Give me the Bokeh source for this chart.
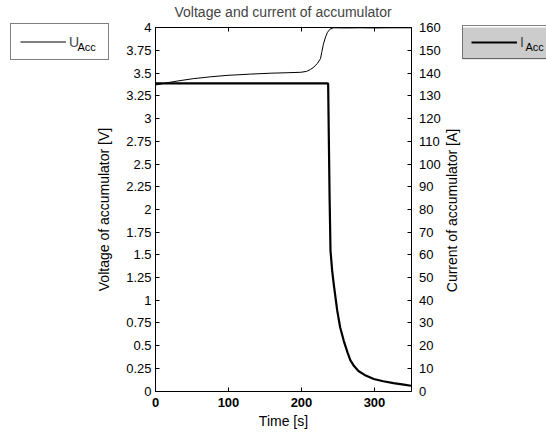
import math
from bokeh.plotting import figure
from bokeh.models import (Range1d, LinearAxis, FixedTicker, Legend, LegendItem, Label,
                          BoxAnnotation)
from bokeh.embed import file_html
from bokeh.resources import INLINE

# ---- data ----
time_u = [0, 10, 20, 35, 52, 75, 98, 130, 158, 180, 199, 207, 212, 217, 222, 226, 228, 230, 233,
          235.6, 239, 244, 260, 280, 300, 320, 350]
u_acc = [3.37, 3.385, 3.40, 3.42, 3.44, 3.46, 3.476, 3.49, 3.50, 3.505, 3.51, 3.52, 3.54, 3.567,
         3.61, 3.66, 3.74, 3.82, 3.90, 3.95, 3.985, 4.0, 3.998, 4.0, 3.998, 4.0, 4.0]

time_i = [0, 236.5, 237.5, 238.5, 239.7, 242, 244.2, 248.9, 253, 258, 263, 267, 272, 278, 288,
          299, 312, 326, 340, 350]
i_acc = [135.5, 135.5, 110, 85, 62, 53, 47, 35.5, 28, 22, 17, 13.5, 11, 8.8, 6.8,
         5.3, 4.3, 3.5, 2.8, 2.3]

volt_ticks = [0, 0.25, 0.5, 0.75, 1, 1.25, 1.5, 1.75, 2, 2.25, 2.5, 2.75, 3, 3.25, 3.5, 3.75, 4]
volt_labels = ["0", "0.25", "0.5", "0.75", "1", "1.25", "1.5", "1.75", "2", "2.25", "2.5",
               "2.75", "3", "3.25", "3.5", "3.75", "4"]
curr_ticks = list(range(0, 161, 10))
time_ticks = [0, 100, 200, 300]
t_min, t_max = 0, 350
v_min, v_max = 0, 4
i_min, i_max = 0, 160

FONT = "Liberation Sans"
W, H, TOP = 546, 433, 20
# pixel box of the axes inside the canvas
AX_L, AX_R, AX_T, AX_B = 155, 410.5, 27.3, 390.5

kx = (AX_R - AX_L) / (t_max - t_min)
ky = (AX_B - AX_T) / (v_max - v_min)
x_start = t_min - AX_L / kx
x_end = t_max + (W - AX_R) / kx
y_start = v_min - (H - AX_B) / ky
y_end = v_max + (AX_T - TOP) / ky
ratio = (i_max - i_min) / (v_max - v_min)

p = figure(width=W, height=H, output_backend="svg", toolbar_location=None,
           x_range=Range1d(x_start, x_end), y_range=Range1d(y_start, y_end),
           min_border_left=0, min_border_right=0, min_border_top=TOP, min_border_bottom=0,
           title="Voltage and current of accumulator")
p.extra_y_ranges = {"curr": Range1d(y_start * ratio, y_end * ratio)}

p.title.text_font = FONT
p.title.text_font_size = "14px"
p.title.text_font_style = "normal"
p.title.align = "left"
p.title.offset = 174
p.title.standoff = 2

p.grid.visible = False
p.outline_line_color = None
p.background_fill_color = "white"
p.border_fill_color = "white"

ya = p.yaxis[0]
ya.ticker = FixedTicker(ticks=volt_ticks)
ya.major_label_overrides = {t: l for t, l in zip(volt_ticks, volt_labels)}
ya.axis_label = "Voltage of accumulator [V]"
ya.fixed_location = t_min
ya.bounds = (v_min, v_max)

xa = p.xaxis[0]
xa.ticker = FixedTicker(ticks=time_ticks)
xa.axis_label = "Time [s]"
xa.major_label_text_font_style = "bold"
xa.fixed_location = v_min
xa.bounds = (t_min, t_max)

ra = LinearAxis(y_range_name="curr", ticker=FixedTicker(ticks=curr_ticks),
                fixed_location=t_max, bounds=(i_min, i_max))
p.add_layout(ra, "right")

ta = LinearAxis(ticker=FixedTicker(ticks=time_ticks), fixed_location=v_max,
                bounds=(t_min, t_max), major_label_text_font_size="0px",
                major_label_text_alpha=0)
p.add_layout(ta, "above")

for ax in (ya, xa, ra, ta):
    ax.major_tick_in = 4
    ax.major_tick_out = 0
    ax.minor_tick_line_color = None
    ax.axis_line_color = "black"
    ax.axis_line_width = 1
    ax.major_tick_line_color = "black"
    ax.major_label_text_font = FONT
    ax.major_label_text_color = "black"
    ax.axis_label_text_font = FONT
    ax.axis_label_text_font_size = "14px"
    ax.axis_label_text_font_style = "normal"
    ax.axis_label_text_color = "black"
for ax in (ya, xa, ra):
    ax.major_label_text_font_size = "13px"

ya.major_label_standoff = 4
ya.axis_label_standoff = 11
ra.major_label_standoff = 8
xa.major_label_standoff = 7
xa.axis_label_standoff = 2

# right axis title, reading bottom-to-top like the left one
p.add_layout(Label(x=451, y=H - 210, x_units="screen", y_units="screen",
                   text="Current of accumulator [A]", angle=math.pi / 2,
                   text_align="center", text_baseline="middle",
                   text_font=FONT, text_font_size="14px", text_color="black"))

ru = p.line(time_u, u_acc, line_color="black", line_width=1)
ri = p.line(time_i, i_acc, line_color="black", line_width=2.2, y_range_name="curr")

# grey fill behind the current legend (the legend boxes themselves are transparent)
p.add_layout(BoxAnnotation(left=462, right=W + 5, bottom=H - 59, top=H - 27,
                           left_units="screen", right_units="screen",
                           bottom_units="screen", top_units="screen",
                           fill_color="#cccccc", fill_alpha=1, line_color=None,
                           level="underlay"))

common = dict(border_line_color="black", border_line_width=1, margin=0, spacing=0,
              glyph_width=46, background_fill_alpha=0,
              label_text_font=FONT, label_text_font_size="14px")
leg_u = Legend(items=[LegendItem(label="U", renderers=[ru])],
               location=(10, H - 25 - 35), padding=9,
               label_standoff=3, label_width=30, label_height=17, glyph_height=17, **common)
leg_i = Legend(items=[LegendItem(label="I", renderers=[ri])],
               location=(462, H - 27 - 32), padding=8,
               label_standoff=3, label_width=40, label_height=16, glyph_height=16, **common)
p.add_layout(leg_u, "center")
p.add_layout(leg_i, "center")

sub_u = Label(x=77, y=H - 46, x_units="screen", y_units="screen", text="Acc",
              text_baseline="alphabetic", text_font=FONT, text_font_size="11px",
              text_color="black", level="overlay")
sub_i = Label(x=525, y=H - 46, x_units="screen", y_units="screen", text="Acc",
              text_baseline="alphabetic", text_font=FONT, text_font_size="11px",
              text_color="black", level="overlay")
p.add_layout(sub_u)
p.add_layout(sub_i)

open("out.html", "w").write(file_html(p, INLINE))
